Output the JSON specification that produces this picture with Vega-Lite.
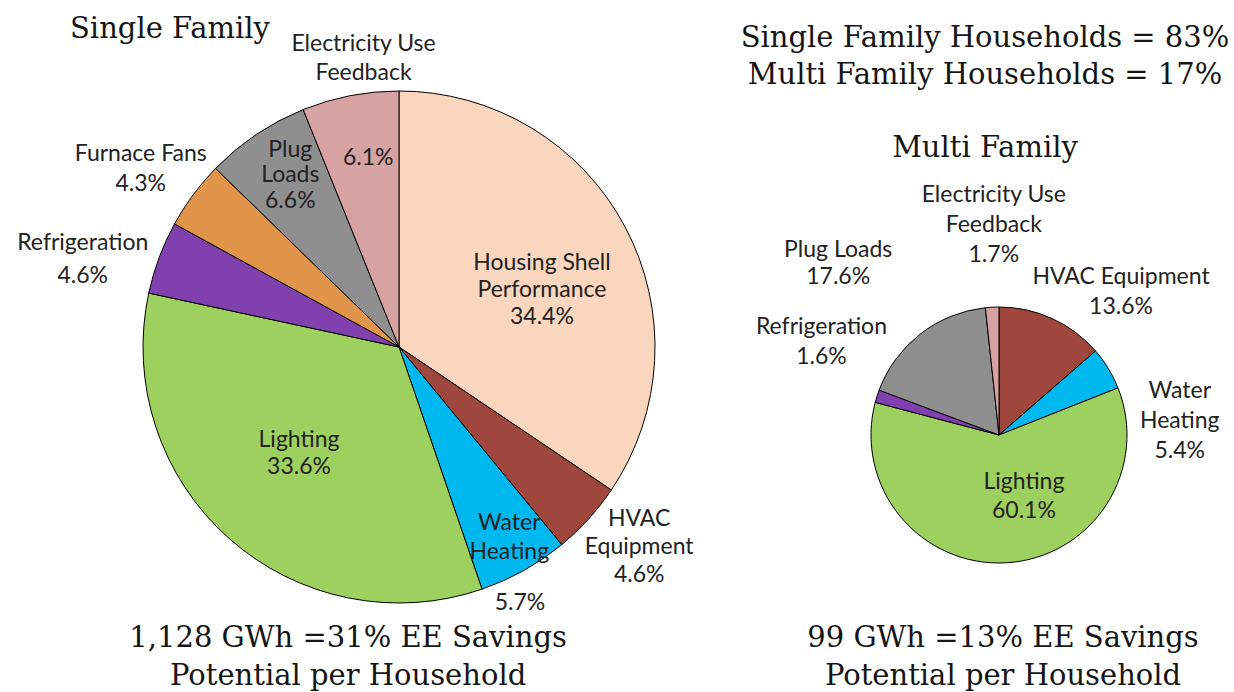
{
  "$schema": "https://vega.github.io/schema/vega-lite/v6.json",
  "padding": {"left": 17, "top": 0, "right": 0, "bottom": 0},
  "spacing": 0,
  "background": "white",
  "config": {
    "view": {"stroke": null},
    "font": "Lato",
    "title": {"font": "DejaVu Serif", "fontSize": 29, "fontWeight": "normal", "color": "#151515", "subtitleFont": "DejaVu Serif", "subtitleFontSize": 29, "subtitleColor": "#151515", "lineHeight": 37}
  },
  "resolve": {"scale": {"theta": "independent"}},
  "datasets": {
    "single": [
      {"cat": "Housing Shell Performance", "share": 34.4, "rank": 1, "label": "Housing Shell\nPerformance\n34.4%"},
      {"cat": "HVAC Equipment", "share": 4.6, "rank": 2, "label": "HVAC\nEquipment\n4.6%"},
      {"cat": "Water Heating", "share": 5.7, "rank": 3, "label": "Water\nHeating\n5.7%", "name": "Water\nHeating", "pct": "5.7%"},
      {"cat": "Lighting", "share": 33.6, "rank": 4, "label": "Lighting\n33.6%"},
      {"cat": "Refrigeration", "share": 4.6, "rank": 5, "label": "Refrigeration\n4.6%"},
      {"cat": "Furnace Fans", "share": 4.3, "rank": 6, "label": "Furnace Fans\n4.3%"},
      {"cat": "Plug Loads", "share": 6.6, "rank": 7, "label": "Plug\nLoads\n6.6%"},
      {"cat": "Electricity Use Feedback", "share": 6.1, "rank": 8, "label": "Electricity Use\nFeedback\n6.1%", "name": "Electricity Use\nFeedback", "pct": "6.1%"}
    ],
    "multi": [
      {"cat": "HVAC Equipment", "share": 13.6, "rank": 1, "label": "HVAC Equipment\n13.6%"},
      {"cat": "Water Heating", "share": 5.4, "rank": 2, "label": "Water\nHeating\n5.4%"},
      {"cat": "Lighting", "share": 60.1, "rank": 3, "label": "Lighting\n60.1%"},
      {"cat": "Refrigeration", "share": 1.6, "rank": 4, "label": "Refrigeration\n1.6%"},
      {"cat": "Plug Loads", "share": 17.6, "rank": 5, "label": "Plug Loads\n17.6%"},
      {"cat": "Electricity Use Feedback", "share": 1.7, "rank": 6, "label": "Electricity Use\nFeedback\n1.7%"}
    ]
  },
  "hconcat": [
    {
      "title": {"text": ["1,128 GWh =31% EE Savings", "Potential per Household"], "orient": "bottom", "anchor": "middle", "offset": -70, "dx": -29, "lineHeight": 38},
      "vconcat": [
        {
          "width": 676,
          "height": 694,
          "data": {"name": "single"},
          "title": {"text": "Single Family", "anchor": "start", "frame": "group", "offset": -44, "dx": 9},
          "encoding": {
            "theta": {"field": "share", "type": "quantitative", "stack": true},
            "order": {"field": "rank", "type": "quantitative"}
          },
          "layer": [
            {
              "mark": {"type": "arc", "radius": 256, "stroke": "#000000", "strokeWidth": 1},
              "encoding": {
                "color": {"field": "cat", "type": "nominal", "legend": null,
                  "scale": {"domain": ["Housing Shell Performance", "HVAC Equipment", "Water Heating", "Lighting", "Refrigeration", "Furnace Fans", "Plug Loads", "Electricity Use Feedback"],
                            "range": ["#FBD6BF", "#A0473D", "#00B8F0", "#9DD05E", "#8041AF", "#E0954B", "#8F8F8F", "#D7A2A2"]}}
              }
            },
            {
              "mark": {"type": "text", "radius": 154, "dx": 7, "dy": -12, "font": "Lato", "fontSize": 23, "lineHeight": 27, "lineBreak": "\n", "align": "center", "baseline": "middle", "color": "#222222"},
              "encoding": {"detail": {"field": "cat"}, "text": {"condition": {"test": "datum.cat === 'Housing Shell Performance'", "field": "label"}, "value": ""}}
            },
            {
              "mark": {"type": "text", "radius": 290, "dx": 25.5, "dy": -23, "font": "Lato", "fontSize": 23, "lineHeight": 28, "lineBreak": "\n", "align": "center", "baseline": "middle", "color": "#222222"},
              "encoding": {"detail": {"field": "cat"}, "text": {"condition": {"test": "datum.cat === 'HVAC Equipment'", "field": "label"}, "value": ""}}
            },
            {
              "mark": {"type": "text", "radius": 220, "dx": 3, "dy": -16, "font": "Lato", "fontSize": 23, "lineHeight": 29, "lineBreak": "\n", "align": "center", "baseline": "middle", "color": "#222222"},
              "encoding": {"detail": {"field": "cat"}, "text": {"condition": {"test": "datum.cat === 'Water Heating'", "field": "name"}, "value": ""}}
            },
            {
              "mark": {"type": "text", "radius": 283, "dx": -17, "dy": 9, "font": "Lato", "fontSize": 23, "lineHeight": 28, "lineBreak": "\n", "align": "center", "baseline": "middle", "color": "#222222"},
              "encoding": {"detail": {"field": "cat"}, "text": {"condition": {"test": "datum.cat === 'Water Heating'", "field": "pct"}, "value": ""}}
            },
            {
              "mark": {"type": "text", "radius": 146, "dx": -3, "dy": -16, "font": "Lato", "fontSize": 23, "lineHeight": 27, "lineBreak": "\n", "align": "center", "baseline": "middle", "color": "#222222"},
              "encoding": {"detail": {"field": "cat"}, "text": {"condition": {"test": "datum.cat === 'Lighting'", "field": "label"}, "value": ""}}
            },
            {
              "mark": {"type": "text", "radius": 329, "dx": -8, "dy": 11, "font": "Lato", "fontSize": 23, "lineHeight": 33, "lineBreak": "\n", "align": "center", "baseline": "middle", "color": "#222222"},
              "encoding": {"detail": {"field": "cat"}, "text": {"condition": {"test": "datum.cat === 'Refrigeration'", "field": "label"}, "value": ""}}
            },
            {
              "mark": {"type": "text", "radius": 315, "dx": -5, "dy": -6, "font": "Lato", "fontSize": 23, "lineHeight": 30, "lineBreak": "\n", "align": "center", "baseline": "middle", "color": "#222222"},
              "encoding": {"detail": {"field": "cat"}, "text": {"condition": {"test": "datum.cat === 'Furnace Fans'", "field": "label"}, "value": ""}}
            },
            {
              "mark": {"type": "text", "radius": 204, "dx": 5, "dy": -28, "font": "Lato", "fontSize": 23, "lineHeight": 25.5, "lineBreak": "\n", "align": "center", "baseline": "middle", "color": "#222222"},
              "encoding": {"detail": {"field": "cat"}, "text": {"condition": {"test": "datum.cat === 'Plug Loads'", "field": "label"}, "value": ""}}
            },
            {
              "mark": {"type": "text", "radius": 193, "dx": 6, "dy": 0, "font": "Lato", "fontSize": 23, "lineHeight": 28, "lineBreak": "\n", "align": "center", "baseline": "middle", "color": "#222222"},
              "encoding": {"detail": {"field": "cat"}, "text": {"condition": {"test": "datum.cat === 'Electricity Use Feedback'", "field": "pct"}, "value": ""}}
            },
            {
              "mark": {"type": "text", "radius": 291, "dx": 20, "dy": -17, "font": "Lato", "fontSize": 23, "lineHeight": 29, "lineBreak": "\n", "align": "center", "baseline": "middle", "color": "#222222"},
              "encoding": {"detail": {"field": "cat"}, "text": {"condition": {"test": "datum.cat === 'Electricity Use Feedback'", "field": "name"}, "value": ""}}
            }
          ]
        }
      ]
    },
    {
      "title": {"text": ["99 GWh =13% EE Savings", "Potential per Household"], "orient": "bottom", "anchor": "middle", "offset": -246, "dx": 4, "lineHeight": 38},
      "vconcat": [
        {
          "width": 524,
          "height": 870,
          "data": {"name": "multi"},
          "title": {"text": ["Single Family Households = 83%", "Multi Family Households  = 17%"], "subtitle": "Multi  Family", "subtitlePadding": 44, "anchor": "middle", "frame": "group", "offset": -163, "dx": -14},
          "encoding": {
            "theta": {"field": "share", "type": "quantitative", "stack": true},
            "order": {"field": "rank", "type": "quantitative"}
          },
          "layer": [
            {
              "mark": {"type": "arc", "radius": 128, "stroke": "#000000", "strokeWidth": 1},
              "encoding": {
                "color": {"field": "cat", "type": "nominal", "legend": null,
                  "scale": {"domain": ["Housing Shell Performance", "HVAC Equipment", "Water Heating", "Lighting", "Refrigeration", "Furnace Fans", "Plug Loads", "Electricity Use Feedback"],
                            "range": ["#FBD6BF", "#A0473D", "#00B8F0", "#9DD05E", "#8041AF", "#E0954B", "#8F8F8F", "#D7A2A2"]}}
              }
            },
            {
              "mark": {"type": "text", "radius": 157, "dx": 57, "dy": -15, "font": "Lato", "fontSize": 23, "lineHeight": 30, "lineBreak": "\n", "align": "center", "baseline": "middle", "color": "#222222"},
              "encoding": {"detail": {"field": "cat"}, "text": {"condition": {"test": "datum.cat === 'HVAC Equipment'", "field": "label"}, "value": ""}}
            },
            {
              "mark": {"type": "text", "radius": 180, "dx": 27, "dy": 50, "font": "Lato", "fontSize": 23, "lineHeight": 30, "lineBreak": "\n", "align": "center", "baseline": "middle", "color": "#222222"},
              "encoding": {"detail": {"field": "cat"}, "text": {"condition": {"test": "datum.cat === 'Water Heating'", "field": "label"}, "value": ""}}
            },
            {
              "mark": {"type": "text", "radius": 66, "dx": 21, "dy": -19, "font": "Lato", "fontSize": 23, "lineHeight": 29, "lineBreak": "\n", "align": "center", "baseline": "middle", "color": "#222222"},
              "encoding": {"detail": {"field": "cat"}, "text": {"condition": {"test": "datum.cat === 'Lighting'", "field": "label"}, "value": ""}}
            },
            {
              "mark": {"type": "text", "radius": 201, "dx": 14, "dy": -47, "font": "Lato", "fontSize": 23, "lineHeight": 30, "lineBreak": "\n", "align": "center", "baseline": "middle", "color": "#222222"},
              "encoding": {"detail": {"field": "cat"}, "text": {"condition": {"test": "datum.cat === 'Refrigeration'", "field": "label"}, "value": ""}}
            },
            {
              "mark": {"type": "text", "radius": 220, "dx": -26, "dy": -11, "font": "Lato", "fontSize": 23, "lineHeight": 27, "lineBreak": "\n", "align": "center", "baseline": "middle", "color": "#222222"},
              "encoding": {"detail": {"field": "cat"}, "text": {"condition": {"test": "datum.cat === 'Plug Loads'", "field": "label"}, "value": ""}}
            },
            {
              "mark": {"type": "text", "radius": 210, "dx": 6, "dy": -30, "font": "Lato", "fontSize": 23, "lineHeight": 30, "lineBreak": "\n", "align": "center", "baseline": "middle", "color": "#222222"},
              "encoding": {"detail": {"field": "cat"}, "text": {"condition": {"test": "datum.cat === 'Electricity Use Feedback'", "field": "label"}, "value": ""}}
            }
          ]
        }
      ]
    }
  ]
}
